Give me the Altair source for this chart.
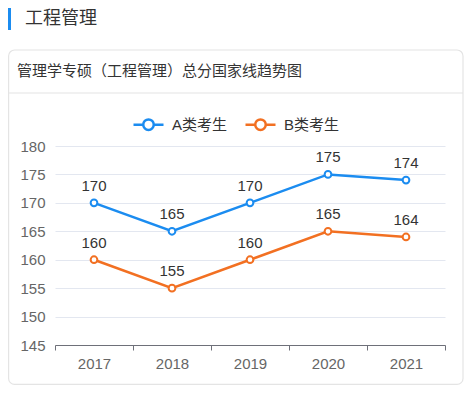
import altair as alt
import pandas as pd

years = ["2017", "2018", "2019", "2020", "2021"]
series_a = [170, 165, 170, 175, 174]
series_b = [160, 155, 160, 165, 164]
series_names = ["A类考生", "B类考生"]
colors = ["#1b8cf0", "#f27022"]
y_ticks = [145, 150, 155, 160, 165, 170, 175, 180]

header = "工程管理"
card_title = "管理学专硕（工程管理）总分国家线趋势图"

FONT = "Liberation Sans, Noto Sans CJK SC, sans-serif"

rows = []
for name, vals in zip(series_names, [series_a, series_b]):
    for yr, v in zip(years, vals):
        rows.append({"year": yr, "score": v, "series": name})
df = pd.DataFrame(rows)
one = pd.DataFrame({"k": [0]})

x_enc = alt.X("year:O", scale=alt.Scale(paddingInner=0, paddingOuter=0),
              axis=alt.Axis(title=None, labelAngle=0, tickBand="extent", grid=False,
                            domainColor="#6e7079", tickColor="#6e7079", tickSize=5,
                            labelColor="#666666", labelFontSize=15, labelFont=FONT,
                            labelPadding=6))
y_enc = alt.Y("score:Q", scale=alt.Scale(domain=[145, 180], zero=False, nice=False),
              axis=alt.Axis(title=None, values=y_ticks, domain=False, ticks=False,
                            gridColor="#e3e7f0", labelColor="#666666", labelFontSize=15,
                            labelFont=FONT, labelPadding=10))
color_scale = alt.Scale(domain=series_names, range=colors)

legend_path = ("M-1,0L-0.35,0M0.35,0L1,0M0.35,0A0.35,0.35,0,1,1,-0.35,0"
               "A0.35,0.35,0,1,1,0.35,0Z")

card = alt.Chart(one).mark_rect(filled=False, stroke="#e4e4e4", strokeWidth=1.2,
                                cornerRadius=6).encode(
    x=alt.value(-46.4), x2=alt.value(408), y=alt.value(-96), y2=alt.value(238.4))
sep = alt.Chart(one).mark_rule(color="#e4e4e4", strokeWidth=1.2).encode(
    x=alt.value(-46.4), x2=alt.value(408), y=alt.value(-53))
bar = alt.Chart(one).mark_rect(color="#1b8cf0").encode(
    x=alt.value(-47), x2=alt.value(-44), y=alt.value(-138), y2=alt.value(-116))
head_txt = alt.Chart(one).mark_text(text=header, font=FONT, fontSize=18, color="#333333",
                                    align="left", baseline="middle").encode(
    x=alt.value(-30), y=alt.value(-127))
title_txt = alt.Chart(one).mark_text(text=card_title, font=FONT, fontSize=15,
                                     color="#333333", align="left",
                                     baseline="middle").encode(
    x=alt.value(-38), y=alt.value(-75))

lines = alt.Chart(df).mark_line(strokeWidth=2.5).encode(
    x=x_enc, y=y_enc,
    color=alt.Color("series:N", scale=color_scale,
                    legend=alt.Legend(title=None, orient="none", legendX=77, legendY=-38,
                                      direction="horizontal", columns=2, columnPadding=12,
                                      symbolType=legend_path, symbolSize=900,
                                      symbolStrokeWidth=2.5, symbolFillColor="white",
                                      labelFont=FONT, labelFontSize=15,
                                      labelColor="#333333", labelOffset=7, padding=0)))
points = alt.Chart(df).mark_point(shape="circle", filled=True, size=45,
                                  strokeWidth=2, opacity=1).encode(
    x=x_enc, y=y_enc,
    stroke=alt.Stroke("series:N", scale=color_scale, legend=None),
    fill=alt.value("white"))
labels = alt.Chart(df).mark_text(font=FONT, fontSize=15, color="#333333",
                                 baseline="bottom", dy=-9).encode(
    x=x_enc, y=y_enc, text=alt.Text("score:Q"))

chart = alt.layer(card, sep, bar, head_txt, title_txt, lines, points, labels).properties(
    width=390, height=199,
    padding={"left": 47, "top": 138, "right": 20, "bottom": 40},
    autosize=alt.AutoSizeParams(type="none"),
).configure_view(stroke=None).resolve_scale(color="shared")

chart.save("out.html", embed_options={"renderer": "svg", "actions": False})
